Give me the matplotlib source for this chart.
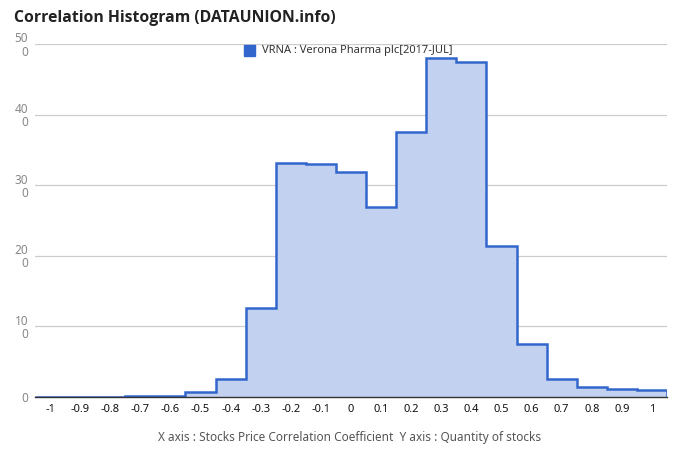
import numpy as np
import matplotlib
matplotlib.use("Agg")
import matplotlib.pyplot as plt

plt.rcParams['font.family'] = ['Noto Sans', 'DejaVu Sans']

categories = [-1.0, -0.9, -0.8, -0.7, -0.6, -0.5, -0.4, -0.3, -0.2, -0.1, 0.0,
              0.1, 0.2, 0.3, 0.4, 0.5, 0.6, 0.7, 0.8, 0.9, 1.0]
values = [0, 0, 0, 2, 2, 7, 25, 126, 331, 330, 318,
          269, 375, 480, 475, 214, 75, 25, 14, 12, 10]
xtick_labels = ['-1', '-0.9', '-0.8', '-0.7', '-0.6', '-0.5', '-0.4', '-0.3', '-0.2', '-0.1', '0',
                '0.1', '0.2', '0.3', '0.4', '0.5', '0.6', '0.7', '0.8', '0.9', '1']
ytick_values = [0, 100, 200, 300, 400, 500]
ytick_labels = ['0', '10\n0', '20\n0', '30\n0', '40\n0', '50\n0']
series_name = 'VRNA : Verona Pharma plc[2017-JUL]'

cats = np.array(categories)
edges = np.concatenate([cats - 0.05, [cats[-1] + 0.05]])

fig = plt.figure(figsize=(6.8, 4.62), dpi=100)
ax = fig.add_axes([35/680, 1 - 397/462, (667-35)/680, (397-44)/462])

line_color = '#3366cc'
ax.stairs(values, edges, fill=True, color='#c2d1f0', zorder=2)
ax.stairs(values, edges, fill=False, color=line_color, linewidth=1.8, zorder=3)

ax.set_xlim(edges[0], edges[-1])
ax.set_ylim(0, 500)

ax.set_yticks(ytick_values)
ax.set_yticklabels(ytick_labels, fontsize=8.5, color='#888888', multialignment='right',
                   linespacing=1.0)
ax.set_xticks(categories)
ax.set_xticklabels(xtick_labels, fontsize=8, color='#111111')
ax.tick_params(axis='both', length=0)
ax.tick_params(axis='y', pad=5)
ax.tick_params(axis='x', pad=5)

for s in ['top', 'right', 'left']:
    ax.spines[s].set_visible(False)
ax.spines['bottom'].set_color('#333333')
ax.spines['bottom'].set_linewidth(1.0)
ax.spines['bottom'].set_zorder(4)

ax.grid(axis='y', color='#cccccc', linewidth=0.9, zorder=0)
ax.set_axisbelow(True)

fig.text(14/680, 1 - 18/462, 'Correlation Histogram (DATAUNION.info)', fontsize=11.3,
         fontweight='bold', family=['Open Sans', 'DejaVu Sans'],
         ha='left', va='center', color='#222222')

# legend
fig.patches.append(matplotlib.patches.Rectangle((244/680, 1 - 56/462), 11/680, 11/462,
                   transform=fig.transFigure, color=line_color, zorder=5))
fig.text(262/680, 1 - 50/462, series_name, fontsize=8, ha='left', va='center', color='#333333')

fig.text(350/680, 1 - 437/462,
         'X axis : Stocks Price Correlation Coefficient  Y axis : Quantity of stocks',
         fontsize=8.5, ha='center', va='center', color='#555555')

fig.savefig('out.png', dpi=100)
